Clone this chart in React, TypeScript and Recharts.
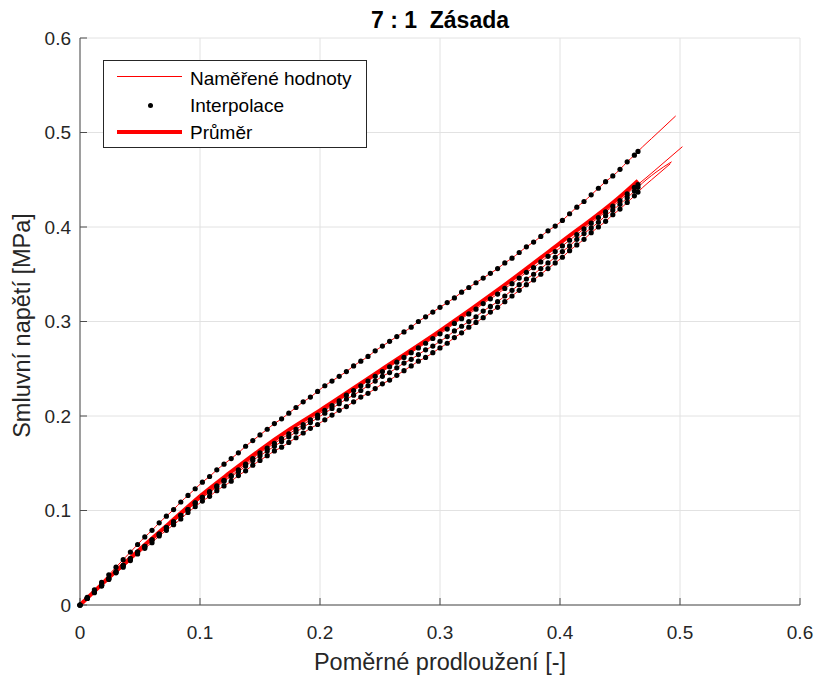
import React from 'react';
import { ComposedChart, Line, XAxis, YAxis, CartesianGrid } from 'recharts';

// strain grid of the interpolated points [-]
const strain = [
  0, 0.006, 0.012, 0.018, 0.024, 0.03, 0.036, 0.042, 0.048,
  0.054, 0.06, 0.066, 0.072, 0.078, 0.084, 0.09, 0.096,
  0.102, 0.108, 0.114, 0.12, 0.126, 0.132, 0.138, 0.144,
  0.15, 0.156, 0.162, 0.168, 0.174, 0.18, 0.186, 0.192, 0.198,
  0.204, 0.21, 0.216, 0.222, 0.228, 0.234, 0.24, 0.246,
  0.252, 0.258, 0.264, 0.27, 0.276, 0.282, 0.288, 0.294,
  0.3, 0.306, 0.312, 0.318, 0.324, 0.33, 0.336, 0.342, 0.348,
  0.354, 0.36, 0.366, 0.372, 0.378, 0.384, 0.39, 0.396,
  0.402, 0.408, 0.414, 0.42, 0.426, 0.432, 0.438, 0.444,
  0.45, 0.456, 0.462, 0.465,
];

// stress [MPa] of each specimen on that grid
const stressA = [
  0, 0.008, 0.016, 0.024, 0.032, 0.04, 0.048, 0.056, 0.064,
  0.072, 0.079, 0.087, 0.094, 0.101, 0.109, 0.116, 0.123,
  0.13, 0.136, 0.143, 0.149, 0.155, 0.161, 0.168, 0.174,
  0.18, 0.186, 0.192, 0.197, 0.203, 0.209, 0.215, 0.22, 0.226,
  0.232, 0.237, 0.242, 0.247, 0.253, 0.258, 0.263, 0.269,
  0.274, 0.279, 0.284, 0.289, 0.294, 0.3, 0.305, 0.31,
  0.315, 0.32, 0.325, 0.331, 0.336, 0.341, 0.346, 0.351, 0.356,
  0.362, 0.367, 0.373, 0.379, 0.384, 0.39, 0.396, 0.401,
  0.407, 0.414, 0.421, 0.427, 0.434, 0.441, 0.448, 0.454,
  0.461, 0.469, 0.476, 0.48,
];
const stressB = [
  0, 0.007, 0.014, 0.021, 0.028, 0.035, 0.042, 0.049, 0.056,
  0.062, 0.069, 0.075, 0.082, 0.088, 0.095, 0.101, 0.108,
  0.114, 0.12, 0.126, 0.132, 0.137, 0.143, 0.149, 0.155,
  0.161, 0.166, 0.171, 0.176, 0.181, 0.186, 0.191, 0.196, 0.201,
  0.206, 0.211, 0.216, 0.222, 0.227, 0.232, 0.237, 0.242,
  0.247, 0.252, 0.257, 0.262, 0.267, 0.272, 0.277, 0.282,
  0.287, 0.292, 0.298, 0.303, 0.308, 0.313, 0.319, 0.324, 0.329,
  0.335, 0.34, 0.346, 0.352, 0.357, 0.363, 0.369, 0.374,
  0.38, 0.386, 0.392, 0.398, 0.404, 0.41, 0.416, 0.422,
  0.428, 0.435, 0.442, 0.445,
];
const stressC = [
  0, 0.007, 0.014, 0.021, 0.028, 0.035, 0.042, 0.049, 0.056,
  0.062, 0.069, 0.075, 0.082, 0.088, 0.095, 0.101, 0.108,
  0.114, 0.119, 0.125, 0.131, 0.136, 0.141, 0.147, 0.153,
  0.158, 0.163, 0.168, 0.173, 0.178, 0.183, 0.188, 0.193, 0.198,
  0.203, 0.208, 0.213, 0.218, 0.222, 0.227, 0.232, 0.237,
  0.242, 0.246, 0.251, 0.256, 0.26, 0.265, 0.27, 0.274,
  0.279, 0.284, 0.29, 0.295, 0.3, 0.305, 0.311, 0.316, 0.321,
  0.327, 0.333, 0.339, 0.345, 0.35, 0.356, 0.362, 0.368,
  0.374, 0.38, 0.387, 0.393, 0.399, 0.405, 0.412, 0.418,
  0.424, 0.431, 0.438, 0.442,
];
const stressD = [
  0, 0.007, 0.013, 0.02, 0.027, 0.034, 0.04, 0.047, 0.054,
  0.06, 0.066, 0.073, 0.079, 0.085, 0.091, 0.098, 0.104,
  0.11, 0.115, 0.121, 0.126, 0.131, 0.137, 0.142, 0.148,
  0.153, 0.158, 0.163, 0.167, 0.172, 0.177, 0.182, 0.187, 0.191,
  0.196, 0.201, 0.206, 0.21, 0.215, 0.22, 0.224, 0.229,
  0.234, 0.238, 0.243, 0.248, 0.253, 0.258, 0.262, 0.267,
  0.272, 0.277, 0.283, 0.288, 0.294, 0.299, 0.304, 0.31, 0.315,
  0.321, 0.327, 0.333, 0.339, 0.344, 0.35, 0.356, 0.362,
  0.368, 0.375, 0.381, 0.387, 0.394, 0.4, 0.406, 0.413,
  0.419, 0.426, 0.433, 0.437,
];

// measured curves continue past the interpolation range
const tailStrainA = [0.48, 0.4964];
const tailStressA = [0.498, 0.5175];
const tailStrainB = [0.48, 0.502];
const tailStressB = [0.461, 0.485];
const tailStrainC = [0.48, 0.493];
const tailStressC = [0.458, 0.469];
const tailStrainD = [0.48, 0.492];
const tailStressD = [0.454, 0.467];

// average curve
const meanStrain = [0, 0.025, 0.05, 0.075, 0.1, 0.125, 0.15, 0.175, 0.2, 0.25, 0.3, 0.35, 0.4, 0.45, 0.465];
const meanStress = [0, 0.03, 0.059, 0.087, 0.115, 0.14, 0.164, 0.186, 0.206, 0.248, 0.29, 0.335, 0.383, 0.432, 0.449];

const ticks = [0, 0.1, 0.2, 0.3, 0.4, 0.5, 0.6];

const font = '"Liberation Sans", Arial, Helvetica, sans-serif';
const textColor = '#262626';
const axisColor = '#4d4d4d';

const pts = (xs: number[], ys: number[]) => xs.map((x, i) => ({ x, y: ys[i] }));

const dotsA = pts(strain, stressA);
const dotsB = pts(strain, stressB);
const dotsC = pts(strain, stressC);
const dotsD = pts(strain, stressD);
const measured = [
  [...dotsA, ...pts(tailStrainA, tailStressA)],
  [...dotsB, ...pts(tailStrainB, tailStressB)],
  [...dotsC, ...pts(tailStrainC, tailStressC)],
  [...dotsD, ...pts(tailStrainD, tailStressD)],
];
const meanData = pts(meanStrain, meanStress);

const App: React.FC = () => {
  return (
    <div style={{ position: 'absolute', left: 0, top: 0, width: 819, height: 678, background: '#fff', fontFamily: font }}>
      <ComposedChart width={819} height={678} margin={{ top: 38, right: 19, bottom: 13, left: 0 }}>
        <CartesianGrid stroke="#e2e2e2" />
        <XAxis
          type="number"
          dataKey="x"
          domain={[0, 0.6]}
          ticks={ticks}
          height={60}
          tickSize={-7}
          tickMargin={28}
          stroke={axisColor}
          tick={{ fill: textColor, fontSize: 19, fontFamily: font }}
        />
        <XAxis
          xAxisId="top"
          orientation="top"
          type="number"
          dataKey="x"
          domain={[0, 0.6]}
          ticks={ticks}
          height={0}
          tickSize={-7}
          tick={false}
          stroke={axisColor}
        />
        <YAxis
          type="number"
          domain={[0, 0.6]}
          ticks={ticks}
          width={80}
          tickSize={-7}
          tickMargin={16}
          stroke={axisColor}
          tick={{ fill: textColor, fontSize: 19, fontFamily: font }}
        />
        <YAxis
          yAxisId="right"
          orientation="right"
          type="number"
          domain={[0, 0.6]}
          ticks={ticks}
          width={0}
          tickSize={-7}
          tick={false}
          stroke={axisColor}
        />
        <Line
          xAxisId="top"
          yAxisId="right"
          data={meanData}
          dataKey="y"
          stroke="none"
          dot={false}
          activeDot={false}
          isAnimationActive={false}
        />
        {measured.map((d, i) => (
          <Line
            key={'m' + i}
            data={d}
            dataKey="y"
            type="monotone"
            stroke="#ff0000"
            strokeWidth={1}
            dot={false}
            activeDot={false}
            isAnimationActive={false}
          />
        ))}
        {[dotsA, dotsB, dotsC, dotsD].map((d, i) => (
          <Line
            key={'d' + i}
            data={d}
            dataKey="y"
            stroke="none"
            dot={{ r: 2.6, fill: '#000', stroke: 'none' }}
            activeDot={false}
            isAnimationActive={false}
          />
        ))}
        <Line
          data={meanData}
          dataKey="y"
          type="monotone"
          stroke="#ff0000"
          strokeWidth={4}
          dot={false}
          activeDot={false}
          isAnimationActive={false}
        />
      </ComposedChart>

      <div style={{ position: 'absolute', left: 240, top: 8.8, width: 400, textAlign: 'center', fontSize: 23, lineHeight: 1, fontWeight: 'bold', color: '#000', whiteSpace: 'pre' }}>
        {'7 : 1  Zásada'}
      </div>
      <div style={{ position: 'absolute', left: 240, top: 650.7, width: 400, textAlign: 'center', fontSize: 23.5, lineHeight: 1, color: textColor }}>
        Poměrné prodloužení [-]
      </div>
      <div style={{ position: 'absolute', left: -178, top: 313.5, width: 400, height: 23, textAlign: 'center', fontSize: 23.5, lineHeight: 1, color: textColor, transform: 'rotate(-90deg)' }}>
        Smluvní napětí [MPa]
      </div>

      <div style={{ position: 'absolute', left: 103, top: 60, width: 262, height: 86, border: '1px solid #262626', background: '#fff' }} />
      <div style={{ position: 'absolute', left: 117, top: 76, width: 65, height: 1, background: '#ff0000' }} />
      <div style={{ position: 'absolute', left: 147.5, top: 102.5, width: 5, height: 5, borderRadius: '50%', background: '#000' }} />
      <div style={{ position: 'absolute', left: 117, top: 130, width: 65, height: 4, background: '#ff0000' }} />
      <div style={{ position: 'absolute', left: 190, top: 69.2, fontSize: 19, lineHeight: 1, color: '#000', whiteSpace: 'nowrap' }}>Naměřené hodnoty</div>
      <div style={{ position: 'absolute', left: 190, top: 95.7, fontSize: 19, lineHeight: 1, color: '#000', whiteSpace: 'nowrap' }}>Interpolace</div>
      <div style={{ position: 'absolute', left: 190, top: 123.2, fontSize: 19, lineHeight: 1, color: '#000', whiteSpace: 'nowrap' }}>Průměr</div>
    </div>
  );
};

export default App;
